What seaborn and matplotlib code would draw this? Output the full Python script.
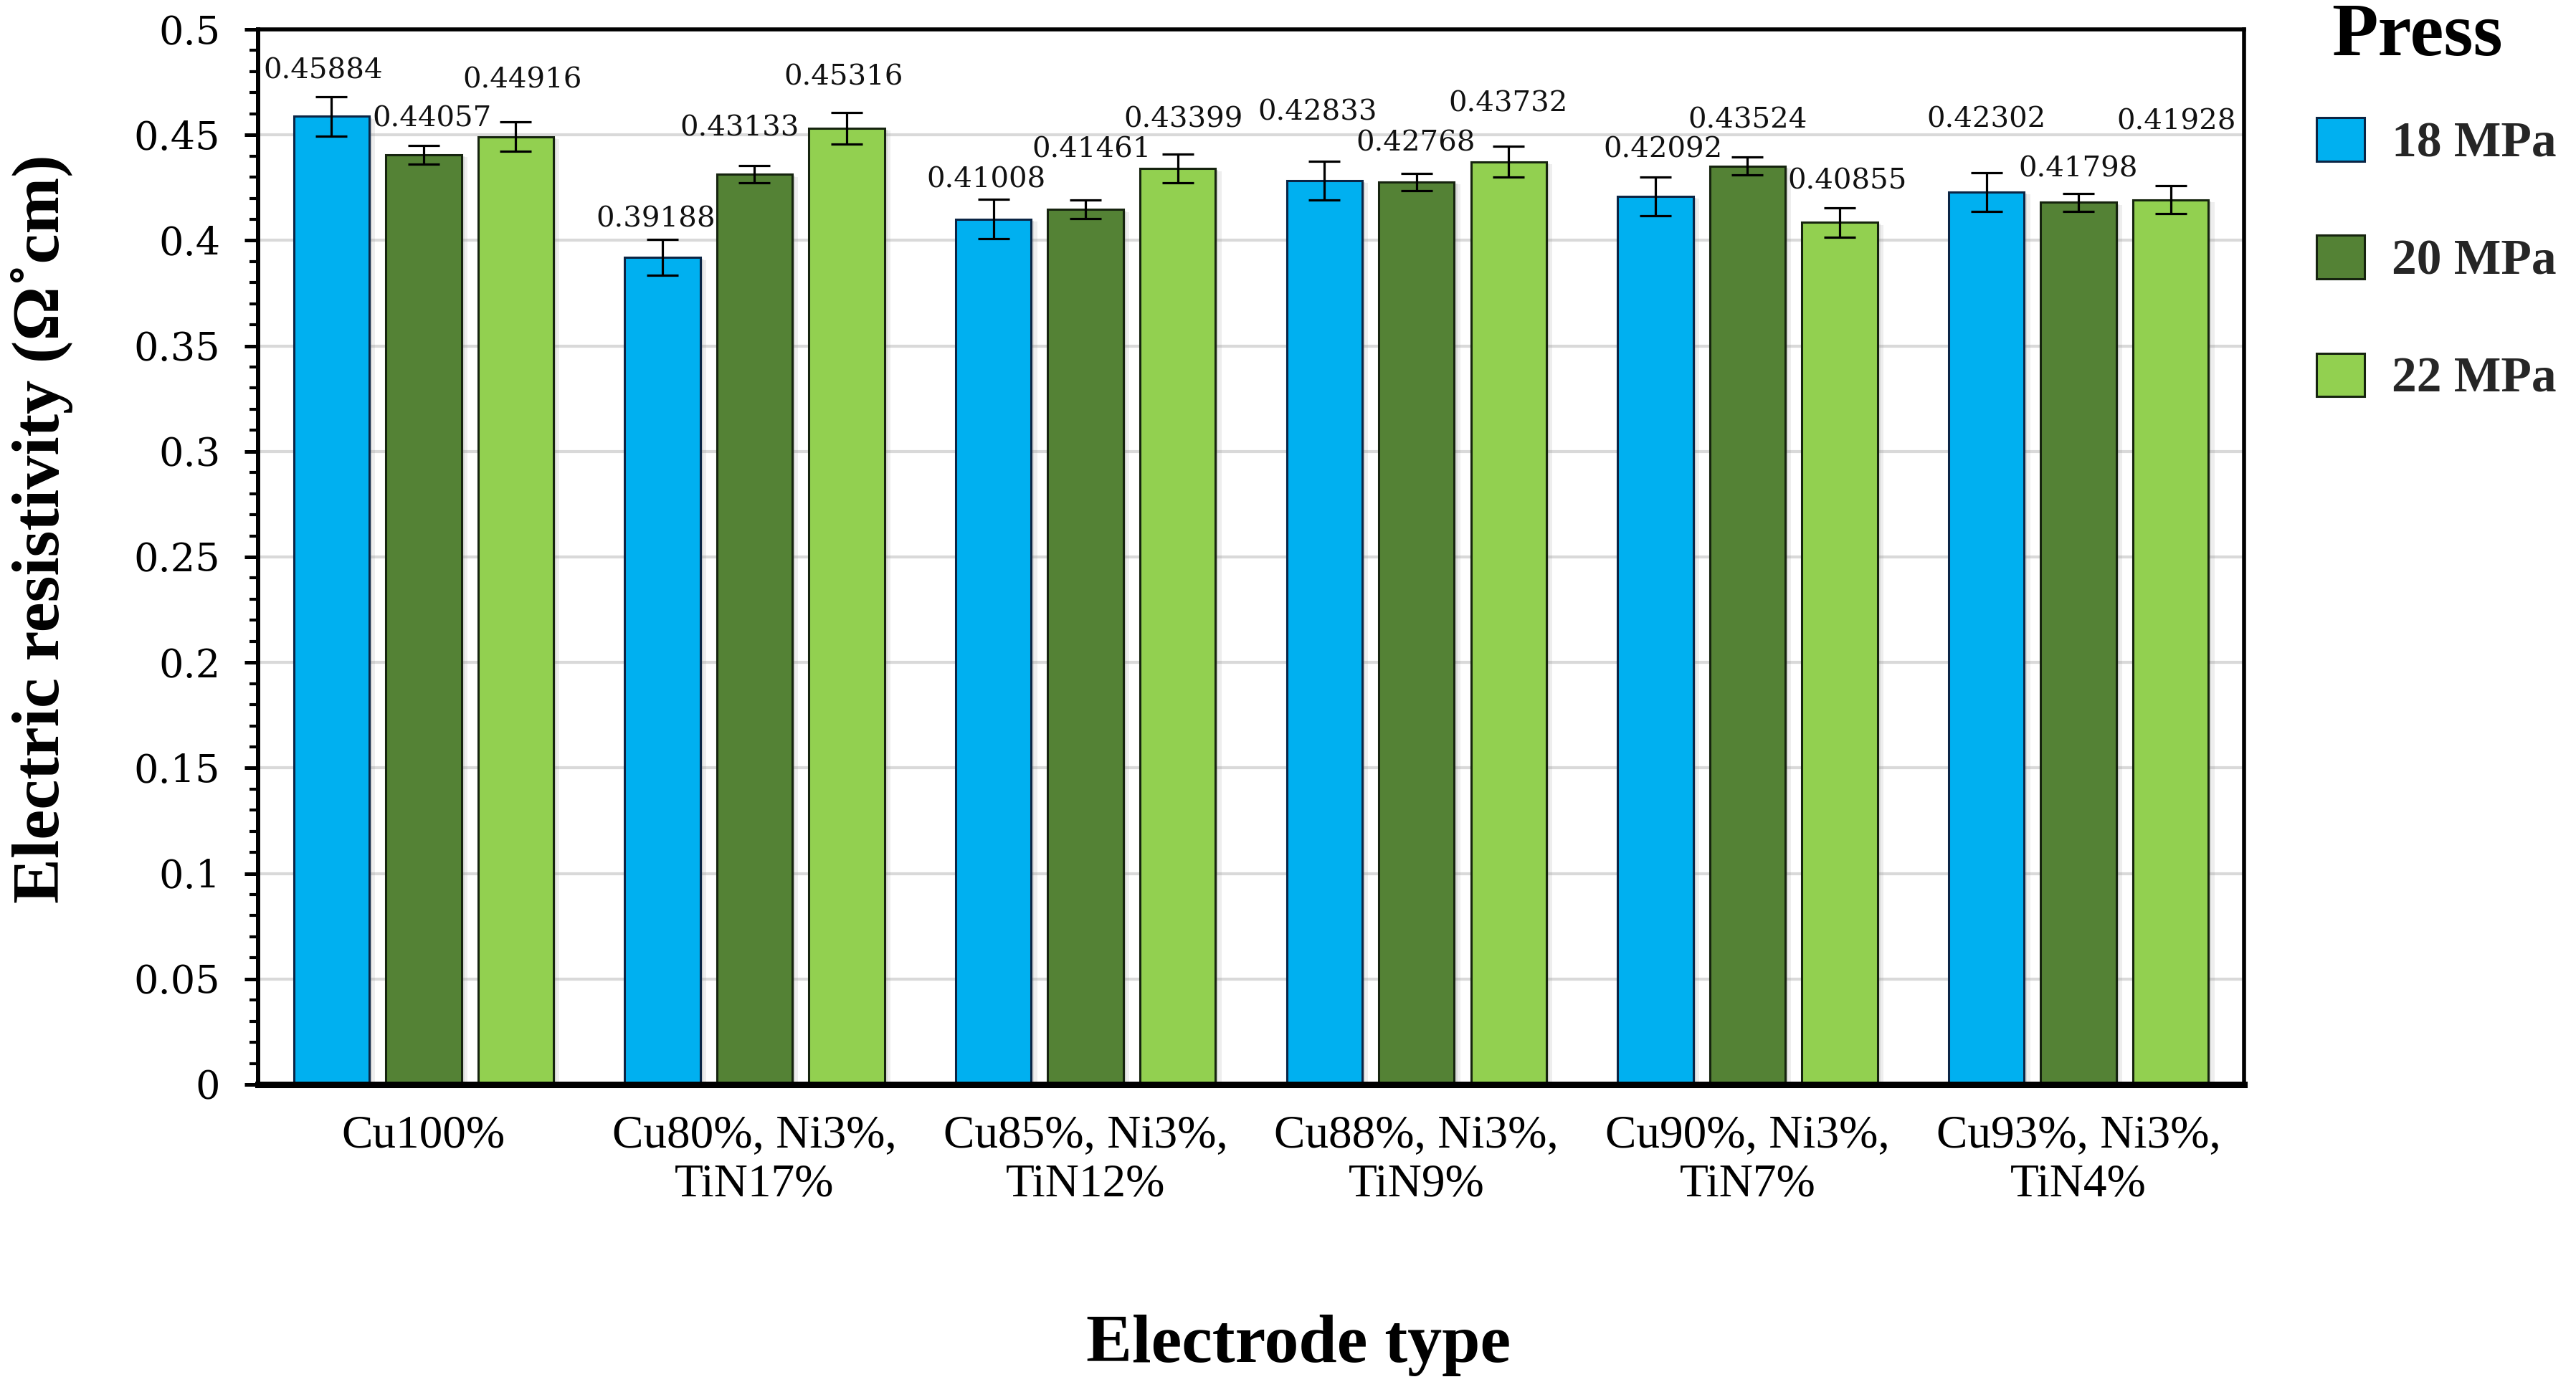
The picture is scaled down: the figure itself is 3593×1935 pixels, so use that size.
"""
Electric resistivity of the electrodes for three pressing loads
"""
import matplotlib
matplotlib.use('Agg')
import numpy as np
import pandas as pd
import matplotlib.pyplot as plt
import matplotlib.patheffects as pe
from matplotlib.patches import Patch
from matplotlib.ticker import MultipleLocator, FuncFormatter
import seaborn as sns

categories = ['Cu100%', 'Cu80%, Ni3%,\nTiN17%', 'Cu85%, Ni3%,\nTiN12%',
              'Cu88%, Ni3%,\nTiN9%', 'Cu90%, Ni3%,\nTiN7%', 'Cu93%, Ni3%,\nTiN4%']
press_levels = ['18 MPa', '20 MPa', '22 MPa']

res_18 = [0.45884, 0.39188, 0.41008, 0.42833, 0.42092, 0.42302]
res_20 = [0.44057, 0.43133, 0.41461, 0.42768, 0.43524, 0.41798]
res_22 = [0.44916, 0.45316, 0.43399, 0.43732, 0.40855, 0.41928]

err_18 = [0.0093, 0.0085, 0.0093, 0.0092, 0.0092, 0.0092]
err_20 = [0.0044, 0.0041, 0.0044, 0.0042, 0.0042, 0.0042]
err_22 = [0.0069, 0.0074, 0.0068, 0.0074, 0.0069, 0.0067]

colors = ['#00B0F0', '#548235', '#92D050']
edge_colors = ['#0b2545', '#16240f', '#16240f']

# value label offsets (pixels from top of error bar), hand placed like the Excel chart
label_dx = [[-12, -9, -10, -10, 11, 0], [12, -21, 8, -1, 0, 0], [9, -4, 8, -1, 11, 8]]
label_dy = [[36, 28, 27, 68, 38, 74], [37, 52, 70, 42, 51, 34], [58, 49, 48, 59, 37, 89]]


def dibujar():
    sns.set_theme(style='ticks')
    plt.rcParams['font.family'] = ['Liberation Serif', 'DejaVu Serif']

    vals = [res_18, res_20, res_22]
    errs = [err_18, err_20, err_22]
    df = pd.DataFrame({
        'Electrode': categories * 3,
        'Press': np.repeat(press_levels, len(categories)),
        'rho': res_18 + res_20 + res_22})

    fig = plt.figure(figsize=(35.93, 19.35), dpi=100)
    ax = fig.add_axes([0.1002, 0.2181, 0.7709, 0.7607])

    sns.barplot(data=df, x='Electrode', y='rho', hue='Press', order=categories,
                hue_order=press_levels, palette=colors, saturation=1, width=0.835, gap=0.18,
                errorbar=None, legend=False, linewidth=2.2, ax=ax)

    bar_conts = list(ax.containers)
    sombra = [pe.SimplePatchShadow(offset=(3, -1.5), shadow_rgbFace='#8a8a8a', alpha=0.22),
              pe.SimplePatchShadow(offset=(6, -2.5), shadow_rgbFace='#8a8a8a', alpha=0.14),
              pe.Normal()]
    for i, cont in enumerate(bar_conts):
        xs = []
        for p in cont:
            p.set_edgecolor(edge_colors[i])
            p.set_path_effects(sombra)
            p.set_zorder(2)
            xs.append(p.get_x() + p.get_width() / 2)
        ax.errorbar(xs, vals[i], yerr=errs[i], fmt='none', ecolor='black',
                    elinewidth=2.3, capsize=15.8, capthick=2.3, zorder=4)
        for j, x in enumerate(xs):
            ax.annotate(f'{vals[i][j]:.5f}', xy=(x, vals[i][j] + errs[i][j]),
                        xytext=(label_dx[i][j], label_dy[i][j]), textcoords='offset pixels',
                        ha='center', va='center', fontsize=29, family='DejaVu Serif',
                        color='#111111', zorder=5)

    # ejes
    ax.set_xlim(-0.5, len(categories) - 0.5)
    ax.set_ylim(0, 0.5)
    ax.yaxis.set_major_locator(MultipleLocator(0.05))
    ax.yaxis.set_minor_locator(MultipleLocator(0.01))
    ax.yaxis.set_major_formatter(FuncFormatter(lambda v, _: f'{round(v, 2):g}'))
    ax.set_axisbelow(True)
    ax.yaxis.grid(True, color='#d9d9d9', linewidth=3)
    ax.xaxis.grid(False)

    ax.tick_params(axis='y', which='major', length=14, width=3.6, direction='out',
                   pad=24, labelsize=39, colors='black', labelfontfamily='DejaVu Serif')
    ax.tick_params(axis='y', which='minor', length=8.6, width=3, direction='out', colors='black')
    ax.tick_params(axis='x', length=0, pad=30, labelsize=47, colors='black')

    for lado in ['top', 'right']:
        ax.spines[lado].set_visible(True)
        ax.spines[lado].set_linewidth(4)
        ax.spines[lado].set_color('black')
    ax.spines['left'].set_linewidth(4.3)
    ax.spines['left'].set_color('black')
    ax.spines['bottom'].set_linewidth(6.5)
    ax.spines['bottom'].set_color('black')

    ax.set_xlabel('Electrode type', fontsize=69, fontweight='bold', color='black')
    ax.xaxis.set_label_coords(0.524, -0.247)
    ax.xaxis.label.set_va('center')
    ax.set_ylabel('Electric resistivity (Ω˚cm)', fontsize=68, fontweight='bold', color='black')
    ax.yaxis.set_label_coords(-0.109, 0.527)
    ax.yaxis.label.set_va('center')

    # leyenda
    handles = [Patch(facecolor=c, edgecolor=ec, linewidth=2.2) for c, ec in zip(colors, edge_colors)]
    fig.legend(handles, press_levels, loc='upper left', bbox_to_anchor=(3231 / 3593, 1 - 164 / 1935),
               frameon=False, borderpad=0, borderaxespad=0, handlelength=0.965, handleheight=0.965,
               handletextpad=0.55, labelspacing=1.37, prop={'weight': 'bold', 'size': 50})
    fig.text(3372 / 3593, 1 - 51 / 1935, 'Press', ha='center', va='center',
             fontsize=76, fontweight='bold', color='black')

    fig.savefig('out.png', dpi=100)


if __name__ == "__main__":
    dibujar()
